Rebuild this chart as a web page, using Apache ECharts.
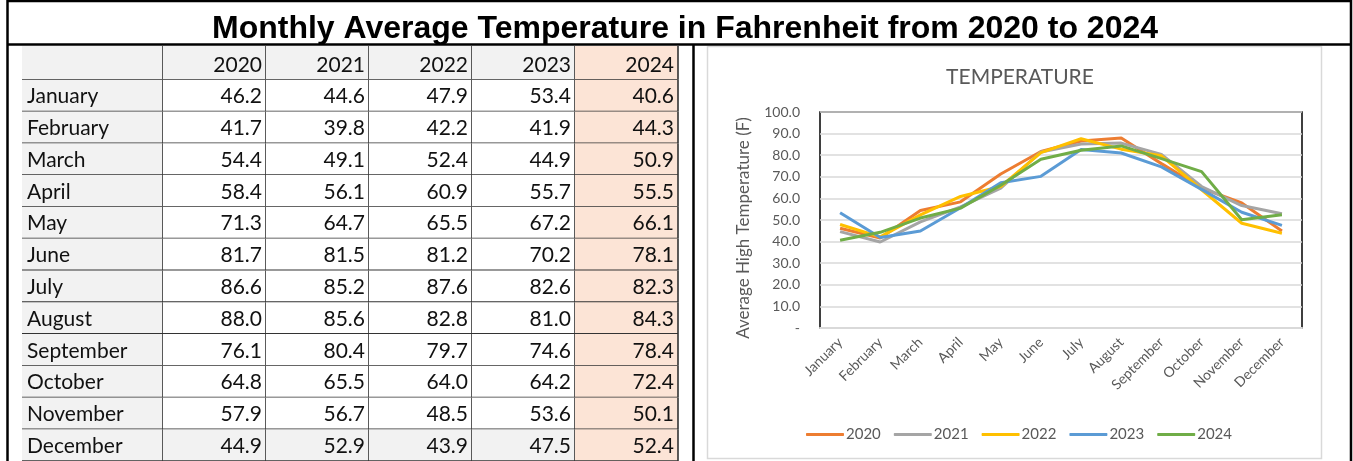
<!DOCTYPE html>
<html>
<head>
<meta charset="utf-8">
<script src="https://cdn.jsdelivr.net/npm/echarts@6/dist/echarts.min.js"></script>
<style>html,body{margin:0;padding:0;background:#fff;}#c{width:1353px;height:461px;}</style>
</head>
<body>
<div id="c"></div>
<script>
var months = ['January','February','March','April','May','June','July','August','September','October','November','December'];
var years = ['2020','2021','2022','2023','2024'];
var t2020 = [46.2,41.7,54.4,58.4,71.3,81.7,86.6,88.0,76.1,64.8,57.9,44.9];
var t2021 = [44.6,39.8,49.1,56.1,64.7,81.5,85.2,85.6,80.4,65.5,56.7,52.9];
var t2022 = [47.9,42.2,52.4,60.9,65.5,81.2,87.6,82.8,79.7,64.0,48.5,43.9];
var t2023 = [53.4,41.9,44.9,55.7,67.2,70.2,82.6,81.0,74.6,64.2,53.6,47.5];
var t2024 = [40.6,44.3,50.9,55.5,66.1,78.1,82.3,84.3,78.4,72.4,50.1,52.4];
var yTicks = [0,10,20,30,40,50,60,70,80,90,100];

var seriesVals = [t2020,t2021,t2022,t2023,t2024];
var lineColors = ['#ED7D31','#A5A5A5','#FFC000','#5B9BD5','#70AD47'];
var rowCats = [''].concat(months);

// table cells
var dataCells = [], dataTexts = [];
years.forEach(function(y, ci){
  dataCells.push([ci, 0]); dataTexts.push(y);
  seriesVals[ci].forEach(function(v, ri){
    dataCells.push([ci, ri + 1]); dataTexts.push(v.toFixed(1));
  });
});
var labelCells = [], labelTexts = [];
rowCats.forEach(function(m, ri){ labelCells.push([0, ri]); labelTexts.push(m); });

var GRID_LINE = '#333333';
var TFONT = '21px Lato';

function cellRenderer(texts, isLabel){
  return function(params, api){
    var col = api.value(0), row = api.value(1);
    var c = api.coord([col, row]);
    var s = api.size([1, 1]);
    var x0 = c[0] - s[0] / 2, y0 = c[1] - s[1] / 2, w = s[0], h = s[1];
    var fill = '#ffffff';
    if (isLabel) fill = '#F2F2F2';
    else if (col === 4) fill = '#FCE4D6';
    else if (row === 0 || row === 12) fill = '#F2F2F2';
    var ext = row === 0 ? 2 : 0;
    var txt = texts[params.dataIndex];
    return {
      type: 'group',
      children: [
        {type: 'rect', shape: {x: x0, y: y0 - ext, width: w, height: h + ext}, style: {fill: fill}},
        {type: 'line', shape: {x1: x0, y1: y0 + h, x2: x0 + w, y2: y0 + h}, style: {stroke: GRID_LINE, lineWidth: 1.6}},
        {type: 'line', shape: {x1: x0 + w, y1: y0 - ext, x2: x0 + w, y2: y0 + h}, style: {stroke: GRID_LINE, lineWidth: 1.6}},
        {type: 'text', style: {
          x: isLabel ? x0 + 5 : x0 + w - 4, y: c[1] + 1,
          text: txt, align: isLabel ? 'left' : 'right', verticalAlign: 'middle',
          font: TFONT, fill: '#111'
        }}
      ]
    };
  };
}

var chart = echarts.init(document.getElementById('c'), null, {renderer: 'canvas'});
var lineSeries = years.map(function(y, i){
  return {
    name: y, type: 'line', xAxisIndex: 2, yAxisIndex: 2,
    data: seriesVals[i], symbol: 'none', showSymbol: false,
    lineStyle: {color: lineColors[i], width: 3}, itemStyle: {color: lineColors[i]},
    z: 3 + i
  };
});

var option = {
  animation: false,
  backgroundColor: '#fff',
  title: [
    {text: 'Monthly Average Temperature in Fahrenheit from 2020 to 2024', left: 680, textAlign: 'center', top: 8,
     textStyle: {fontFamily: 'Liberation Sans', fontWeight: 'bold', fontSize: 32, color: '#000'}},
    {text: 'TEMPERATURE', left: 1015, textAlign: 'center', top: 62,
     textStyle: {fontFamily: 'Lato', fontWeight: 'normal', fontSize: 21, color: '#595959'}}
  ],
  legend: {
    data: years, left: 801, top: 422, icon: 'roundRect', itemWidth: 38, itemHeight: 3, itemGap: 13,
    textStyle: {fontFamily: 'Lato', fontSize: 15, color: '#595959', padding: [0,0,0,-3]}
  },
  grid: [
    {left: 22, top: 48, width: 141, height: 416},
    {left: 163, top: 48, width: 515, height: 416},
    {left: 820, right: 51, top: 112, bottom: 133, show: true, borderColor: '#000', borderWidth: 1.5, backgroundColor: 'transparent'}
  ],
  xAxis: [
    {gridIndex: 0, type: 'category', data: ['label'], show: false},
    {gridIndex: 1, type: 'category', data: years, show: false},
    {gridIndex: 2, type: 'category', data: months, boundaryGap: true,
     axisLine: {show: true, lineStyle: {color: '#D9D9D9', width: 2}},
     axisTick: {show: false},
     axisLabel: {rotate: 45, interval: 0, fontFamily: 'Lato', fontSize: 14, color: '#595959', margin: 12}}
  ],
  yAxis: [
    {gridIndex: 0, type: 'category', data: rowCats, inverse: true, show: false},
    {gridIndex: 1, type: 'category', data: rowCats, inverse: true, show: false},
    {gridIndex: 2, type: 'value', min: yTicks[0], max: yTicks[yTicks.length - 1], interval: 10,
     name: 'Average High Temperature (F)', nameLocation: 'middle', nameGap: 68, nameRotate: 90,
     nameTextStyle: {fontFamily: 'Lato', fontSize: 17, color: '#595959', padding: [0, 16, 0, 0]},
     axisLine: {show: false}, axisTick: {show: false},
     splitLine: {lineStyle: {color: '#D9D9D9', width: 1.5}},
     axisLabel: {fontFamily: 'Lato', fontSize: 14, color: '#595959', margin: 20,
       formatter: function(v){ return v === 0 ? '-' : v.toFixed(1); }}}
  ],
  series: [
    {type: 'custom', xAxisIndex: 0, yAxisIndex: 0, data: labelCells, renderItem: cellRenderer(labelTexts, true), clip: false, silent: true},
    {type: 'custom', xAxisIndex: 1, yAxisIndex: 1, data: dataCells, renderItem: cellRenderer(dataTexts, false), clip: false, silent: true}
  ].concat(lineSeries),
  graphic: [
    {type: 'rect', shape: {x: 707.5, y: 46.5, width: 614, height: 412}, style: {fill: 'none', stroke: '#D9D9D9', lineWidth: 1.5}, z: 100},
    {type: 'line', shape: {x1: 7, y1: 1, x2: 1352, y2: 1}, style: {stroke: '#000', lineWidth: 2.5}, z: 100},
    {type: 'line', shape: {x1: 7.5, y1: 0, x2: 7.5, y2: 461}, style: {stroke: '#000', lineWidth: 2.5}, z: 100},
    {type: 'line', shape: {x1: 7, y1: 44.5, x2: 1352, y2: 44.5}, style: {stroke: '#000', lineWidth: 2.5}, z: 100},
    {type: 'line', shape: {x1: 693.5, y1: 44, x2: 693.5, y2: 461}, style: {stroke: '#000', lineWidth: 2.5}, z: 100},
    {type: 'line', shape: {x1: 1351, y1: 0, x2: 1351, y2: 461}, style: {stroke: '#000', lineWidth: 2.5}, z: 100}
  ]
};
chart.setOption(option);
</script>
</body>
</html>
